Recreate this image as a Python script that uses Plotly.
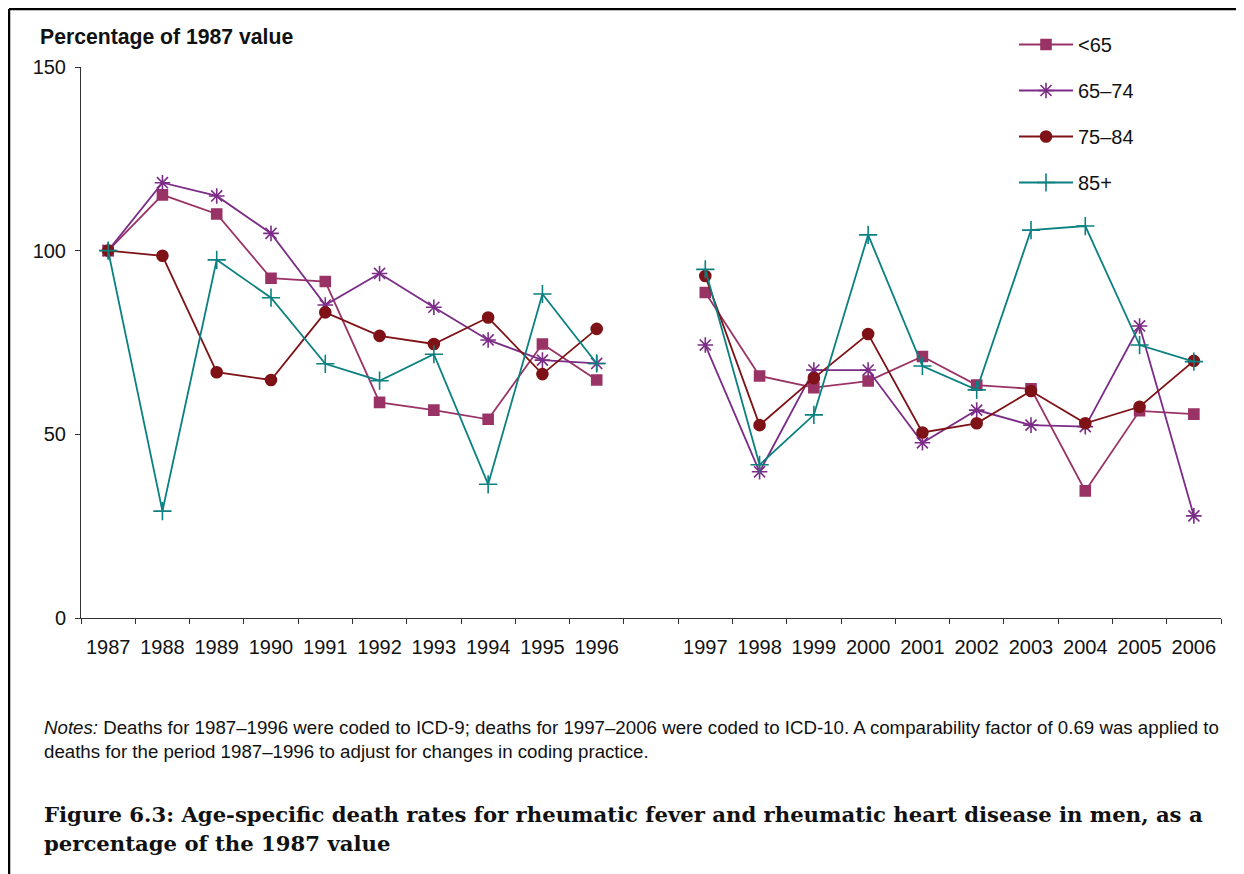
import plotly.graph_objects as go

years_a = ["1987", "1988", "1989", "1990", "1991", "1992", "1993", "1994", "1995", "1996"]
years_b = ["1997", "1998", "1999", "2000", "2001", "2002", "2003", "2004", "2005", "2006"]
gap_label = " "

under65 = [100, 115.2, 110.0, 92.5, 91.6, 58.7, 56.6, 54.1, 74.6, 64.8,
           88.6, 65.9, 62.7, 64.5, 71.2, 63.4, 62.4, 34.6, 56.4, 55.5]
age65_74 = [100, 118.5, 114.9, 104.7, 85.2, 93.8, 84.6, 75.7, 70.2, 69.3,
            74.3, 39.8, 67.5, 67.5, 47.7, 56.6, 52.5, 52.1, 79.5, 27.8]
age75_84 = [100, 98.6, 66.9, 64.8, 83.2, 76.8, 74.6, 81.8, 66.4, 78.7,
            93.1, 52.5, 65.3, 77.3, 50.5, 53.0, 61.8, 53.0, 57.5, 70.0]
age85 = [100, 29.1, 97.5, 87.2, 69.2, 64.6, 71.8, 36.4, 88.2, 69.3,
         94.9, 41.7, 55.3, 104.3, 68.6, 62.1, 105.6, 106.7, 74.3, 69.8]

series_names = ["<65", "65\u201374", "75\u201384", "85+"]
series_values = [under65, age65_74, age75_84, age85]
colors = ["#993366", "#7B2C86", "#7E1216", "#0B8080"]
symbols = ["square", "asterisk-open", "circle", "cross-thin-open"]
msizes = [10, 13, 11, 13]

y_ticks = [0, 50, 100, 150]

categories = years_a + [gap_label] + years_b

# page offset of the figure (default body margin)
OFF = 8
W, H = 1244, 874
# plot area in page pixels
L, R, T, B = 81 - OFF, 1221 - OFF, 67 - OFF, 618 - OFF


def px(x):
    return (x - OFF - L) / (R - L)


def py(y):
    return (B - (y - OFF)) / (B - T)


fig = go.Figure()
for name, vals, c, s, ms in zip(series_names, series_values, colors, symbols, msizes):
    n = len(years_a)
    yv = list(vals[:n]) + [None] + list(vals[n:])
    fig.add_trace(go.Scatter(
        x=categories, y=yv, name=name, mode="lines+markers",
        connectgaps=False, legendgroup=name,
        line=dict(color=c, width=1.8),
        marker=dict(symbol=s, size=ms, color=c, line=dict(color=c, width=1.6)),
        hoverinfo="skip",
    ))

TXT = "#111111"
fig.update_layout(
    width=W, height=H,
    margin=dict(l=L, r=W - R, t=T, b=H - B, autoexpand=False),
    paper_bgcolor="white", plot_bgcolor="white",
    font=dict(family="Liberation Sans, Arial, sans-serif", size=20, color=TXT),
    showlegend=True,
    legend=dict(
        x=px(1014), y=py(25), xanchor="left", yanchor="top",
        font=dict(size=20, color=TXT),
        tracegroupgap=17, bgcolor="rgba(0,0,0,0)",
        itemwidth=54,
    ),
    xaxis=dict(
        type="category", categoryorder="array", categoryarray=categories,
        tickmode="array", tickvals=categories, ticktext=categories,
        tickson="boundaries", ticks="outside", ticklen=5, tickcolor="#333333",
        showline=True, linecolor="#333333", linewidth=1,
        showgrid=False, zeroline=False,
        tickfont=dict(size=20, color=TXT),
        ticklabelstandoff=11,
        range=[-0.5, len(categories) - 0.5],
    ),
    yaxis=dict(
        range=[0, 150], tickvals=y_ticks, ticks="outside", ticklen=5,
        tickcolor="#333333", showline=True, linecolor="#333333", linewidth=1,
        showgrid=False, zeroline=False,
        tickfont=dict(size=20, color=TXT),
        ticklabelstandoff=5,
    ),
)

SERIF = "DejaVu Serif, serif"
annotations = [
    dict(text="<b>Percentage of 1987 value</b>", x=px(38), y=py(37),
         xanchor="left", yanchor="middle", font=dict(size=21.2, color=TXT)),
    dict(text="<i>Notes:</i> Deaths for 1987\u20131996 were coded to ICD-9; deaths for 1997\u20132006 were coded to ICD-10. A comparability factor of 0.69 was applied to",
         x=px(42), y=py(727), xanchor="left", yanchor="middle",
         font=dict(size=18.7, color=TXT)),
    dict(text="deaths for the period 1987\u20131996 to adjust for changes in coding practice.",
         x=px(42), y=py(751), xanchor="left", yanchor="middle",
         font=dict(size=18.7, color=TXT)),
    dict(text="<b>Figure 6.3: Age-specific death rates for rheumatic fever and rheumatic heart disease in men, as a</b>",
         x=px(42), y=py(814), xanchor="left", yanchor="middle",
         font=dict(family=SERIF, size=21.2, color=TXT)),
    dict(text="<b>percentage of the 1987 value</b>",
         x=px(42), y=py(843), xanchor="left", yanchor="middle",
         font=dict(family=SERIF, size=21.2, color=TXT)),
]
for a in annotations:
    a.update(xref="paper", yref="paper", showarrow=False)
fig.update_layout(annotations=annotations)

# figure frame (top and left edges)
fig.add_shape(type="line", xref="paper", yref="paper",
              x0=px(OFF + 1), x1=px(W + 20), y0=py(OFF + 1), y1=py(OFF + 1),
              line=dict(color="black", width=2.5))
fig.add_shape(type="line", xref="paper", yref="paper",
              x0=px(OFF + 1), x1=px(OFF + 1), y0=py(OFF + 1), y1=py(H + 20),
              line=dict(color="black", width=2.5))

fig.write_html("out.html")
